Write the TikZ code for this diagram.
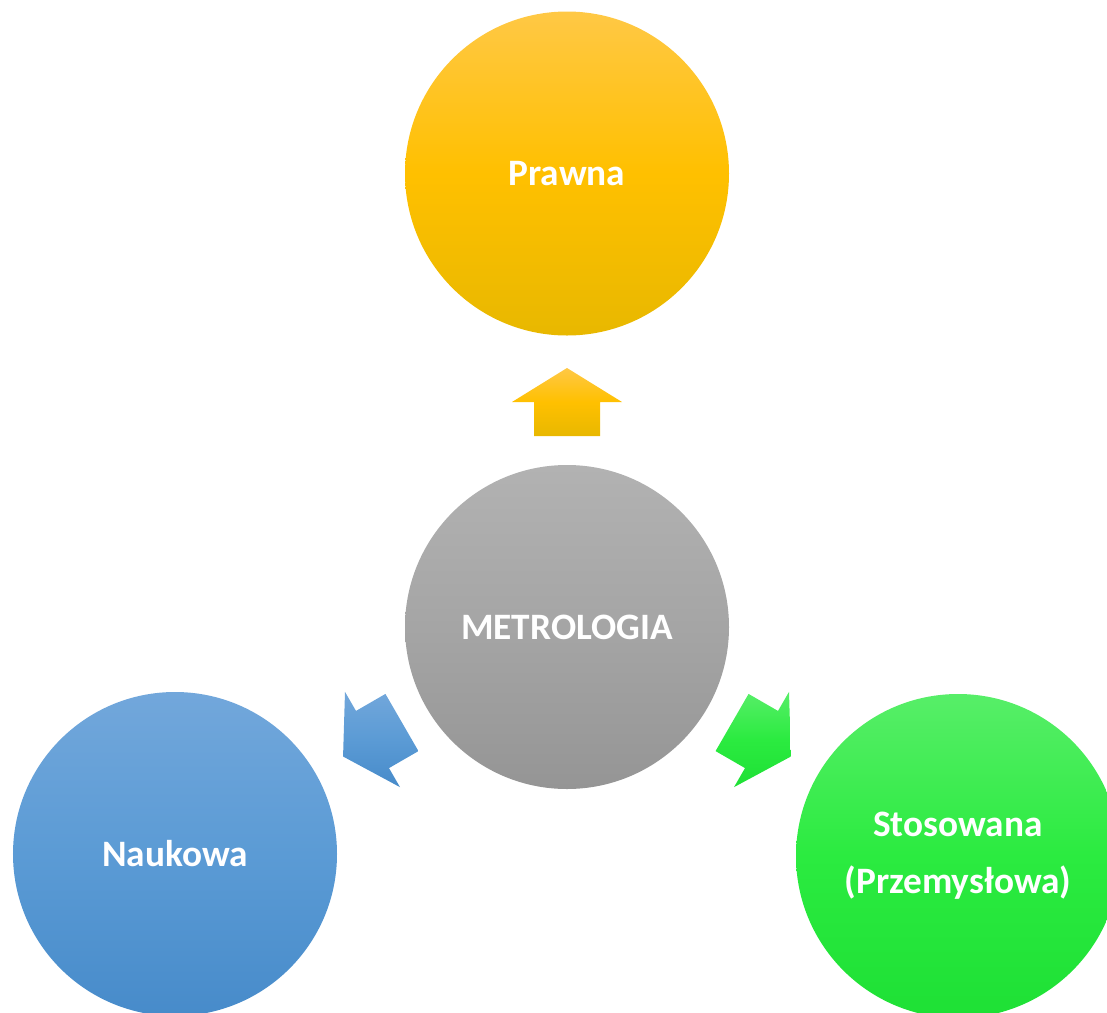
\documentclass[tikz,border=0pt]{standalone}
\usepackage{fontspec}
\setmainfont{Carlito}
\usetikzlibrary{shadings}
\definecolor{yTop}{HTML}{FFC845}
\definecolor{yMid}{HTML}{FFC000}
\definecolor{yBot}{HTML}{E8B800}
\definecolor{bTop}{HTML}{72A7DB}
\definecolor{bMid}{HTML}{5B9BD5}
\definecolor{bBot}{HTML}{478BCA}
\definecolor{gTop}{HTML}{57EE68}
\definecolor{gMid}{HTML}{2BEB40}
\definecolor{gBot}{HTML}{1EE035}
\definecolor{kTop}{HTML}{B2B2B2}
\definecolor{kMid}{HTML}{A5A5A5}
\definecolor{kBot}{HTML}{959595}
\tikzset{
  bubble/.style={circle, minimum size=324bp, inner sep=0pt, draw=none,
    text=white, font=\fontsize{37.3bp}{57bp}\selectfont\bfseries, align=center},
  yfill/.style={top color=yTop, bottom color=yBot, middle color=yMid},
  bfill/.style={top color=bTop, bottom color=bBot, middle color=bMid},
  gfill/.style={top color=gTop, bottom color=gBot, middle color=gMid},
  kfill/.style={top color=kTop, bottom color=kBot, middle color=kMid},
}
\begin{document}
\begin{tikzpicture}[x=1bp,y=1bp]
\useasboundingbox (0,0) rectangle (1107,-1013);
\clip (0,0) rectangle (1107,-1013);
% circles
\node[bubble, yfill] (prawna) at (567,-173.5) {Prawna};
\node[bubble, kfill] (metro) at (567,-627) {METROLOGIA};
\node[bubble, bfill] (nauk) at (175,-854) {Naukowa};
\node[bubble, gfill] (stos) at (958,-856) {Stosowana\\(Przemysłowa)};
% up arrow
\path[yfill] (567,-368) -- (622,-402) -- (600,-402) -- (600,-436)
  -- (534,-436) -- (534,-402) -- (512,-402) -- cycle;
% left-down arrow
\path[bfill] (343.06,-756.5) -- (345.0,-691.87) -- (356.0,-710.92)
  -- (385.44,-693.92) -- (418.44,-751.08) -- (389.0,-768.08)
  -- (400.0,-787.13) -- cycle;
% right-down arrow
\path[gfill] (790.94,-756.5) -- (789.0,-691.87) -- (778.0,-710.92)
  -- (748.56,-693.92) -- (715.56,-751.08) -- (745.0,-768.08)
  -- (734.0,-787.13) -- cycle;
\end{tikzpicture}
\end{document}
